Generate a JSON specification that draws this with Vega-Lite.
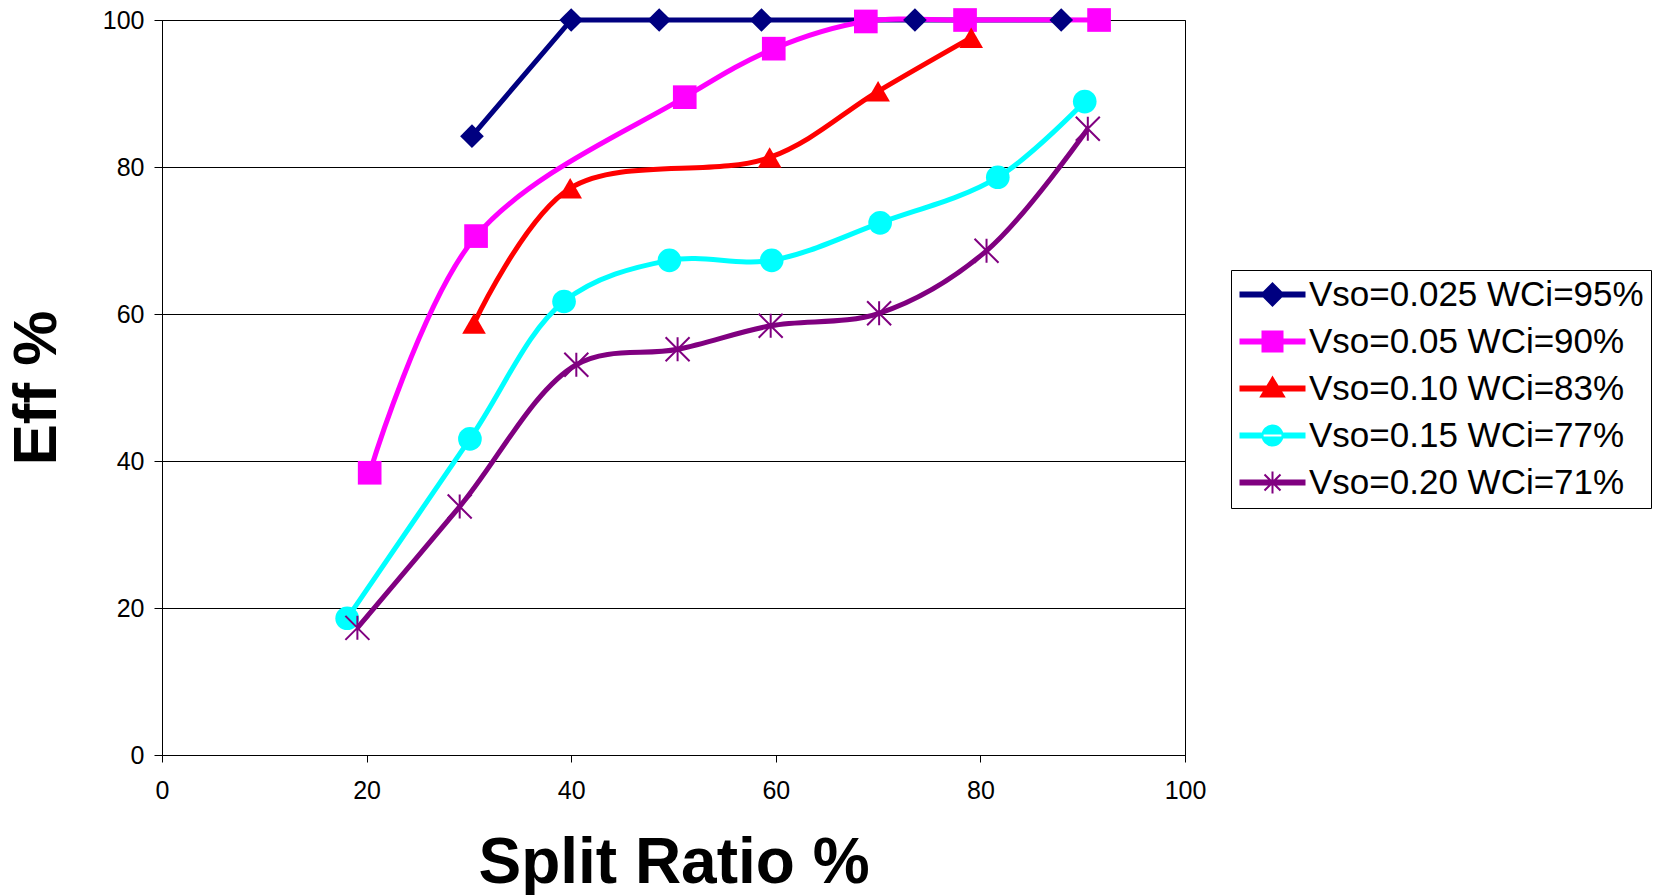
{
  "$schema": "https://vega.github.io/schema/vega-lite/v6.json",
  "width": 1023,
  "height": 735,
  "autosize": {"type": "none"},
  "padding": {"left": 162, "top": 20, "right": 472, "bottom": 140},
  "background": "white",
  "config": {
    "view": {"stroke": "black", "strokeWidth": 1},
    "font": "Liberation Sans"
  },
  "data": {
    "values": [
      {"series": "Vso=0.025 WCi=95%", "x": 30.3, "y": 84.2},
      {"series": "Vso=0.025 WCi=95%", "x": 40.0, "y": 100},
      {"series": "Vso=0.025 WCi=95%", "x": 48.6, "y": 100},
      {"series": "Vso=0.025 WCi=95%", "x": 58.6, "y": 100},
      {"series": "Vso=0.025 WCi=95%", "x": 73.6, "y": 100},
      {"series": "Vso=0.025 WCi=95%", "x": 87.9, "y": 100},
      {"series": "Vso=0.05 WCi=90%", "x": 20.3, "y": 38.4},
      {"series": "Vso=0.05 WCi=90%", "x": 30.7, "y": 70.6},
      {"series": "Vso=0.05 WCi=90%", "x": 51.1, "y": 89.5},
      {"series": "Vso=0.05 WCi=90%", "x": 59.8, "y": 96.1},
      {"series": "Vso=0.05 WCi=90%", "x": 68.8, "y": 99.8},
      {"series": "Vso=0.05 WCi=90%", "x": 78.5, "y": 100},
      {"series": "Vso=0.05 WCi=90%", "x": 91.6, "y": 100},
      {"series": "Vso=0.10 WCi=83%", "x": 30.5, "y": 58.7},
      {"series": "Vso=0.10 WCi=83%", "x": 39.9, "y": 77.1},
      {"series": "Vso=0.10 WCi=83%", "x": 59.4, "y": 81.3},
      {"series": "Vso=0.10 WCi=83%", "x": 70.0, "y": 90.3},
      {"series": "Vso=0.10 WCi=83%", "x": 79.1, "y": 97.6},
      {"series": "Vso=0.15 WCi=77%", "x": 18.1, "y": 18.6},
      {"series": "Vso=0.15 WCi=77%", "x": 30.1, "y": 43.0},
      {"series": "Vso=0.15 WCi=77%", "x": 39.3, "y": 61.7},
      {"series": "Vso=0.15 WCi=77%", "x": 49.6, "y": 67.3},
      {"series": "Vso=0.15 WCi=77%", "x": 59.6, "y": 67.3},
      {"series": "Vso=0.15 WCi=77%", "x": 70.2, "y": 72.4},
      {"series": "Vso=0.15 WCi=77%", "x": 81.7, "y": 78.6},
      {"series": "Vso=0.15 WCi=77%", "x": 90.2, "y": 88.9},
      {"series": "Vso=0.20 WCi=71%", "x": 19.1, "y": 17.3},
      {"series": "Vso=0.20 WCi=71%", "x": 29.1, "y": 33.8},
      {"series": "Vso=0.20 WCi=71%", "x": 40.5, "y": 53.1},
      {"series": "Vso=0.20 WCi=71%", "x": 50.4, "y": 55.2},
      {"series": "Vso=0.20 WCi=71%", "x": 59.5, "y": 58.4},
      {"series": "Vso=0.20 WCi=71%", "x": 70.1, "y": 60.1},
      {"series": "Vso=0.20 WCi=71%", "x": 80.6, "y": 68.6},
      {"series": "Vso=0.20 WCi=71%", "x": 90.5, "y": 85.2}
    ]
  },
  "encoding": {
    "x": {
      "field": "x", "type": "quantitative",
      "scale": {"domain": [0, 100], "nice": false},
      "axis": {
        "title": "Split Ratio %", "values": [0, 20, 40, 60, 80, 100], "grid": false, "labelFlush": false,
        "domainColor": "black", "tickColor": "black", "tickSize": 7,
        "labelFont": "Liberation Sans", "labelFontSize": 25, "labelColor": "black", "labelPadding": 16,
        "titleFont": "Liberation Sans", "titleFontSize": 64, "titleFontWeight": "bold", "titleColor": "black", "titlePadding": 28
      }
    },
    "y": {
      "field": "y", "type": "quantitative",
      "scale": {"domain": [0, 100], "nice": false},
      "axis": {
        "title": "Eff %", "values": [0, 20, 40, 60, 80, 100], "grid": true,
        "gridColor": "black", "gridWidth": 1, "gridOpacity": 1,
        "domainColor": "black", "tickColor": "black", "tickSize": 8,
        "labelFont": "Liberation Sans", "labelFontSize": 25, "labelColor": "black", "labelPadding": 10,
        "titleFont": "Liberation Sans", "titleFontSize": 62, "titleFontWeight": "bold", "titleColor": "black", "titlePadding": 34
      }
    },
    "color": {
      "field": "series", "type": "nominal",
      "scale": {
        "domain": ["Vso=0.025 WCi=95%", "Vso=0.05 WCi=90%", "Vso=0.10 WCi=83%", "Vso=0.15 WCi=77%", "Vso=0.20 WCi=71%"],
        "range": ["#000080", "#FF00FF", "#FF0000", "#00FFFF", "#800080"]
      },
      "legend": {
        "title": null, "orient": "none", "legendX": 1069, "legendY": 250, "direction": "vertical",
        "strokeColor": "black", "fillColor": "white", "padding": 7,
        "labelFont": "Liberation Sans", "labelFontSize": 35, "labelColor": "black", "labelLimit": 600,
        "symbolSize": 100, "symbolStrokeWidth": 2, "symbolOffset": 17, "labelOffset": 19, "rowPadding": 11,
        "encode": {
          "symbols": {
            "update": {
              "shape": {"signal": "['M-6.4,-0.4H6.4V0.4H-6.4Z M0,-2.2L2.2,0L0,2.2L-2.2,0Z', 'M-6.4,-0.4H6.4V0.4H-6.4Z M-2,-2H2V2H-2Z', 'M-6.4,-0.4H6.4V0.4H-6.4Z M0,-2.2L2.3,1.6L-2.3,1.6Z', 'M-6.4,-0.4H6.4V0.4H-6.4Z M-2,0A2,2 0 1,0 2,0A2,2 0 1,0 -2,0Z', 'M-6.4,-0.4H6.4V0.4H-6.4Z M0,-2.2V2.2M-1.6,-1.6L1.6,1.6M-1.6,1.6L1.6,-1.6'][datum.index]"},
              "fill": {"signal": "['#000080', '#FF00FF', '#FF0000', '#00FFFF', '#800080'][datum.index]"},
              "stroke": {"signal": "['#000080', '#FF00FF', '#FF0000', '#00FFFF', '#800080'][datum.index]"},
              "strokeWidth": {"value": 2},
              "size": {"value": 100},
              "opacity": {"value": 1}
            }
          }
        }
      }
    }
  },
  "layer": [
    {
      "transform": [{"filter": "datum.series === 'Vso=0.025 WCi=95%'"}],
      "mark": {"type": "line", "strokeWidth": 5, "interpolate": "linear"}
    },
    {
      "transform": [{"filter": "datum.series !== 'Vso=0.025 WCi=95%'"}],
      "mark": {"type": "line", "strokeWidth": 5, "interpolate": "catmull-rom"}
    },
    {
      "transform": [{"filter": "datum.series !== 'Vso=0.20 WCi=71%'"}],
      "mark": {"type": "point", "filled": true, "size": 560, "opacity": 1},
      "encoding": {
        "shape": {
          "field": "series", "type": "nominal",
          "scale": {
            "domain": ["Vso=0.025 WCi=95%", "Vso=0.05 WCi=90%", "Vso=0.10 WCi=83%", "Vso=0.15 WCi=77%"],
            "range": ["diamond", "square", "triangle-up", "circle"]
          },
          "legend": null
        }
      }
    },
    {
      "transform": [{"filter": "datum.series === 'Vso=0.20 WCi=71%'"}],
      "mark": {"type": "point", "filled": false, "shape": "M0,-1V1M-1,-1L1,1M-1,1L1,-1", "size": 576, "strokeWidth": 2, "opacity": 1}
    }
  ]
}
